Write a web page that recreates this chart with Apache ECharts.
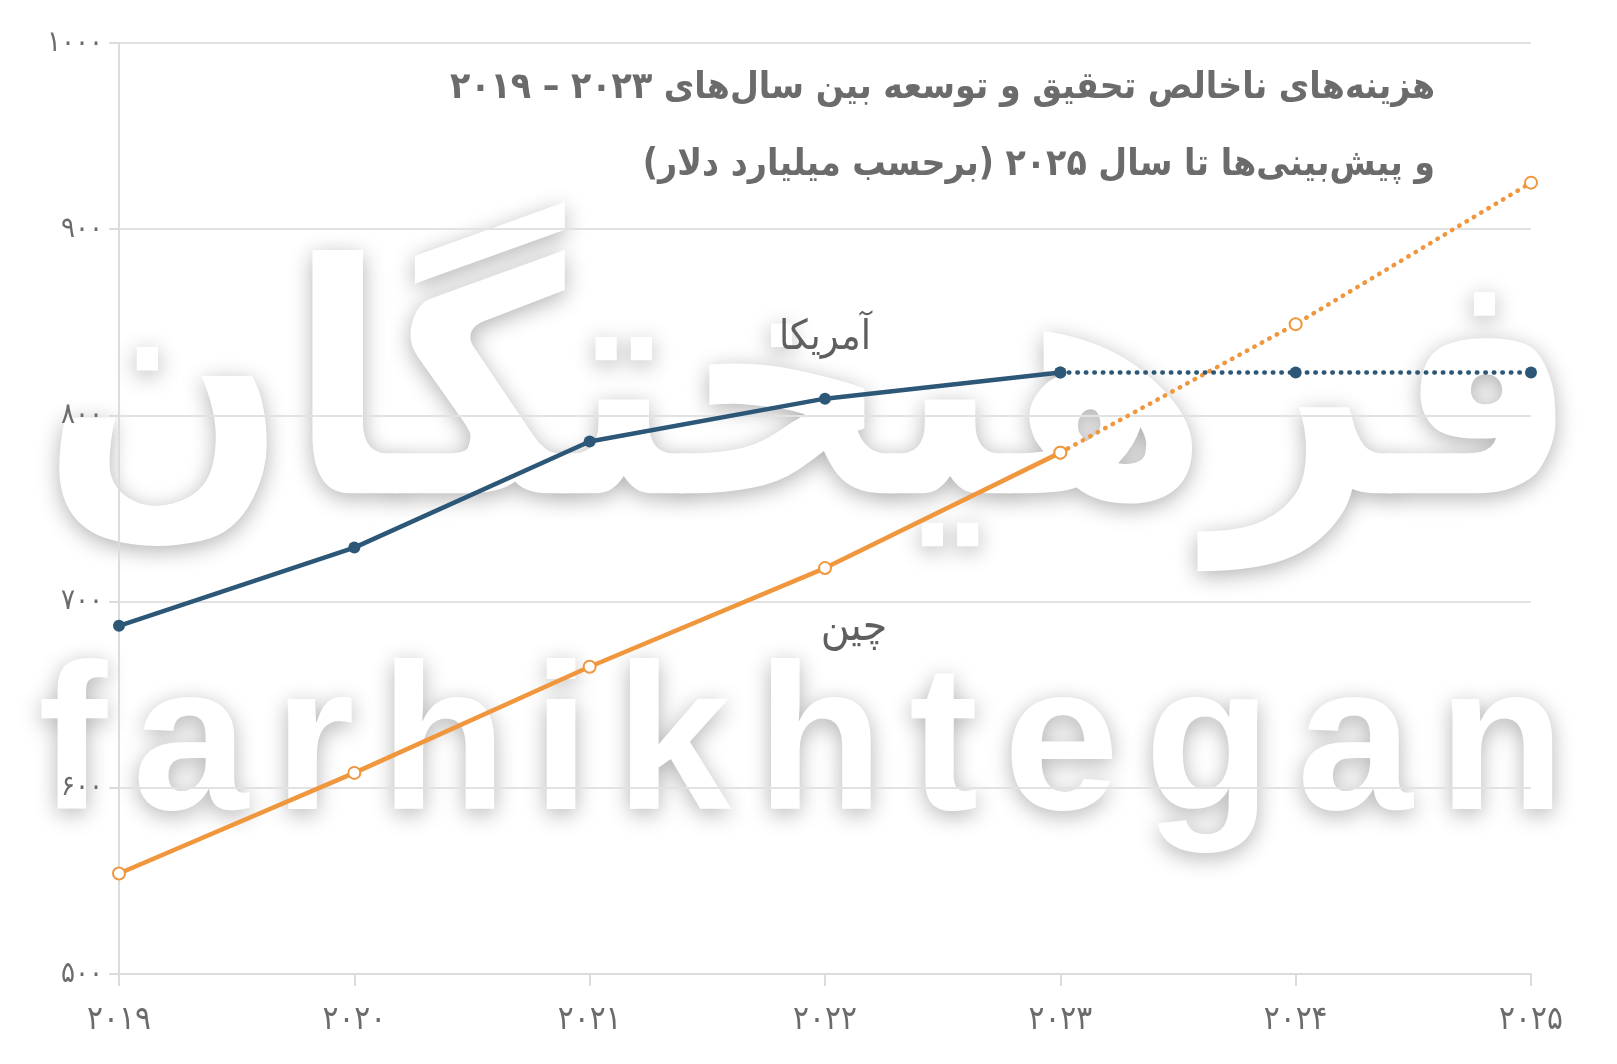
<!DOCTYPE html>
<html>
<head>
<meta charset="utf-8">
<script src="https://cdn.jsdelivr.net/npm/echarts@6/dist/echarts.min.js"></script>
<style>
html,body{margin:0;padding:0;background:#fff;}
#chart{width:1617px;height:1064px;}
</style>
</head>
<body>
<div id="chart" dir="rtl"></div>
<script>
// ---- data ----
const categories = ['۲۰۱۹', '۲۰۲۰', '۲۰۲۱', '۲۰۲۲', '۲۰۲۳', '۲۰۲۴', '۲۰۲۵'];
const usValues = [687, 729, 786, 809, 823, 823, 823];
const chinaValues = [554, 608, 665, 718, 780, 849, 925];
const forecastFrom = 4; // index of 2023, last actual year
const yTicks = [500, 600, 700, 800, 900, 1000];
const seriesNames = ['آمریکا', 'چین'];
const titleLines = [
  'هزینه‌های ناخالص تحقیق و توسعه بین سال‌های ۲۰۲۳ – ۲۰۱۹',
  'و پیش‌بینی‌ها تا سال ۲۰۲۵ (برحسب میلیارد دلار)'
];
const watermarkFa = 'فرهیختگان';
const watermarkEn = 'farhikhtegan';

// ---- helpers ----
const toFa = s => String(s).replace(/\d/g, d => '۰۱۲۳۴۵۶۷۸۹'[d]);
const actual = arr => arr.map((v, i) => i <= forecastFrom ? v : null);
const forecast = arr => arr.map((v, i) => i >= forecastFrom ? v : null);

const US_COLOR = '#2c5777';
const CN_COLOR = '#f0963d';
const TXT = '#6b6b6b';
const FA_FONT = '"DejaVu Sans Condensed", "DejaVu Sans", sans-serif';

const mctx = document.createElement('canvas').getContext('2d');
function measure(font, text) { mctx.font = font; return mctx.measureText(text).width; }

// watermark (Persian)
const waFaFont = 'bold 320px "DejaVu Sans"';
const waFaW = measure(waFaFont, watermarkFa);
const wmShadow = { textShadowColor: 'rgba(0,0,0,0.30)', textShadowBlur: 22, textShadowOffsetY: 5 };
const graphics = [];
graphics.push({
  type: 'text', z: -10, x: 810, y: 410, scaleX: 1537 / waFaW, silent: true,
  style: Object.assign({ text: watermarkFa, font: waFaFont, fill: '#ffffff',
    align: 'center', verticalAlign: 'middle', textAlign: 'center', textVerticalAlign: 'middle' }, wmShadow)
});
// watermark (Latin) letter-spaced
const waEnFont = 'bold 208px "Liberation Sans"';
const letters = watermarkEn.split('');
const lw = letters.map(c => measure(waEnFont, c));
const enLeft = 38, enRight = 1565;
const gap = (enRight - enLeft - lw.reduce((a, b) => a + b, 0)) / (letters.length - 1);
let cx = enLeft;
letters.forEach((c, i) => {
  graphics.push({
    type: 'text', z: -10, x: cx, y: 752, silent: true,
    style: Object.assign({ text: c, font: waEnFont, fill: '#ffffff',
      align: 'left', verticalAlign: 'middle', textAlign: 'left', textVerticalAlign: 'middle' }, wmShadow)
  });
  cx += lw[i] + gap;
});
// title
titleLines.forEach((t, i) => {
  graphics.push({
    type: 'text', z: 20, x: 1435, y: i === 0 ? 88 : 165,
    style: { text: t, font: 'bold 37px ' + FA_FONT, fill: TXT,
      align: 'right', verticalAlign: 'middle', textAlign: 'right', textVerticalAlign: 'middle' }
  });
});
// series name labels
graphics.push({
  type: 'text', z: 20, x: 825, y: 338,
  style: { text: seriesNames[0], font: '41px ' + FA_FONT, fill: '#5f5f5f',
    align: 'center', verticalAlign: 'middle', textAlign: 'center', textVerticalAlign: 'middle' }
});
graphics.push({
  type: 'text', z: 20, x: 854, y: 629,
  style: { text: seriesNames[1], font: '44px ' + FA_FONT, fill: '#5f5f5f',
    align: 'center', verticalAlign: 'middle', textAlign: 'center', textVerticalAlign: 'middle' }
});

const dotted = { type: [0.5, 8], cap: 'round', width: 4.5 };

const chart = echarts.init(document.getElementById('chart'), null, { renderer: 'canvas' });
chart.setOption({
  backgroundColor: '#ffffff',
  animation: false,
  grid: { left: 119, right: 86, top: 43, bottom: 90 },
  xAxis: {
    type: 'category', data: categories, boundaryGap: false,
    axisLine: { show: true, lineStyle: { color: '#dcdcdc', width: 2 } },
    axisTick: { show: true, length: 12, lineStyle: { color: '#dcdcdc', width: 2 } },
    axisLabel: { color: TXT, fontSize: 33, fontFamily: FA_FONT, margin: 30 },
    splitLine: { show: false }
  },
  yAxis: {
    type: 'value', min: yTicks[0], max: yTicks[yTicks.length - 1], interval: yTicks[1] - yTicks[0],
    axisLine: { show: true, lineStyle: { color: '#dcdcdc', width: 2 } },
    axisTick: { show: true, length: 10, lineStyle: { color: '#dcdcdc', width: 2 } },
    axisLabel: { color: TXT, fontSize: 29, fontFamily: FA_FONT, margin: 16, formatter: v => toFa(v) },
    splitLine: { show: true, lineStyle: { color: '#e2e2e2', width: 2 } }
  },
  graphic: { elements: graphics },
  series: [
    {
      name: seriesNames[1] + ' forecast', type: 'line', data: forecast(chinaValues),
      symbol: 'emptyCircle', symbolSize: 12, showSymbol: true,
      itemStyle: { color: CN_COLOR, borderColor: CN_COLOR, borderWidth: 3 },
      lineStyle: Object.assign({ color: CN_COLOR }, dotted), z: 3
    },
    {
      name: seriesNames[0] + ' forecast', type: 'line', data: forecast(usValues),
      symbol: 'circle', symbolSize: 12, showSymbol: true,
      itemStyle: { color: US_COLOR },
      lineStyle: Object.assign({ color: US_COLOR }, dotted), z: 3
    },
    {
      name: seriesNames[0], type: 'line', data: actual(usValues),
      symbol: 'circle', symbolSize: 12, showSymbol: true,
      itemStyle: { color: US_COLOR },
      lineStyle: { color: US_COLOR, width: 4.5 }, z: 4
    },
    {
      name: seriesNames[1], type: 'line', data: actual(chinaValues),
      symbol: 'emptyCircle', symbolSize: 12, showSymbol: true,
      itemStyle: { color: CN_COLOR, borderColor: CN_COLOR, borderWidth: 3 },
      lineStyle: { color: CN_COLOR, width: 4.5 }, z: 4
    }
  ]
});
</script>
</body>
</html>
